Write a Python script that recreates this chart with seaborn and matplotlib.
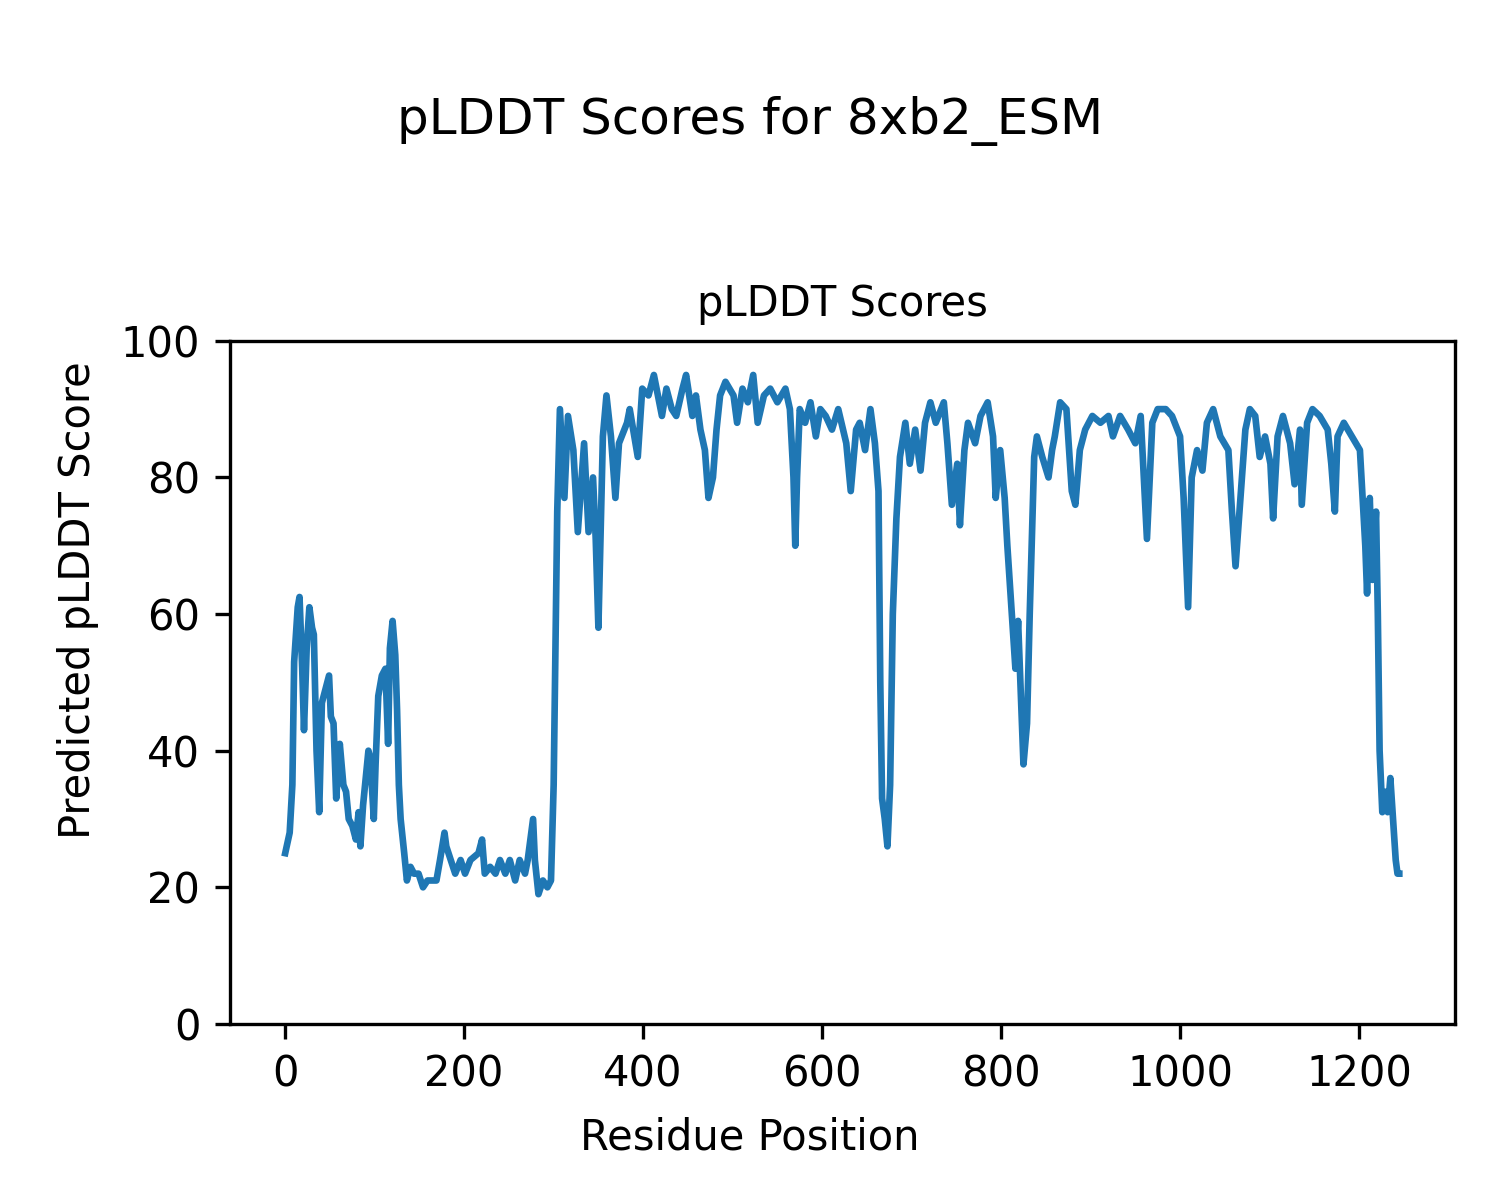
"""
Plot per-residue pLDDT scores for 8xb2_ESM.
"""

import matplotlib
matplotlib.use("Agg")
import matplotlib.pyplot as plt
import seaborn as sns
import pandas as pd

# Residue positions and pLDDT values
residues = [
    0, 5, 8, 10, 12, 14, 16, 19, 21, 24, 27, 30, 32, 35, 38, 41, 45, 49, 51, 54,
    57, 61, 65, 68, 71, 75, 79, 82, 84, 87, 93, 95, 99, 101, 104, 108, 112, 115,
    117, 120, 123, 125, 127, 129, 133, 136, 140, 144, 149, 154, 159, 164, 169,
    173, 178, 180, 185, 190, 196, 201, 207, 216, 220, 223, 229, 235, 240, 246,
    251, 257, 262, 268, 271, 277, 279, 283, 288, 293, 297, 300, 304, 307, 312,
    316, 322, 327, 334, 339, 344, 347, 350, 355, 359, 364, 369, 373, 382, 385,
    394, 399, 406, 412, 421, 426, 432, 437, 444, 448, 455, 459, 464, 469, 473,
    478, 482, 486, 492, 501, 505, 511, 517, 523, 528, 535, 542, 550, 559, 564,
    568, 570, 572, 575, 581, 587, 593, 598, 604, 611, 618, 627, 632, 638, 642,
    648, 654, 659, 663, 665, 667, 670, 673, 676, 679, 683, 687, 693, 698, 704,
    710, 715, 721, 727, 736, 740, 745, 751, 754, 759, 763, 771, 777, 785, 791,
    794, 799, 804, 807, 812, 816, 819, 825, 829, 832, 837, 840, 846, 853, 857,
    860, 866, 873, 879, 883, 888, 894, 902, 911, 920, 925, 933, 942, 950, 956,
    963, 969, 975, 984, 991, 1000, 1004, 1009, 1013, 1019, 1025, 1030, 1037,
    1045, 1054, 1058, 1062, 1067, 1073, 1078, 1084, 1089, 1095, 1101, 1104,
    1109, 1115, 1123, 1128, 1134, 1136, 1142, 1148, 1156, 1165, 1169, 1173,
    1176, 1183, 1192, 1201, 1207, 1209, 1212, 1215, 1219, 1221, 1223, 1226,
    1230, 1232, 1235, 1239, 1241, 1243, 1245,
]
plddt = [
    25, 28, 35, 53, 57, 61, 62.5, 52, 43, 55, 61, 58, 57, 40, 31, 47, 49, 51, 45, 44,
    33, 41, 35, 34, 30, 29, 27, 31, 26, 32, 40, 39, 30, 38, 48, 51, 52, 41,
    55, 59, 54, 46, 35, 30, 25, 21, 23, 22, 22, 20, 21, 21, 21,
    24, 28, 26, 24, 22, 24, 22, 24, 25, 27, 22, 23, 22, 24, 22,
    24, 21, 24, 22, 24, 30, 24, 19, 21, 20, 21, 35, 75, 90, 77,
    89, 84, 72, 85, 72, 80, 71, 58, 86, 92, 86, 77, 85, 88, 90,
    83, 93, 92, 95, 89, 93, 90, 89, 93, 95, 89, 92, 87, 84, 77,
    80, 87, 92, 94, 92, 88, 93, 91, 95, 88, 92, 93, 91, 93, 90,
    80, 70, 80, 90, 88, 91, 86, 90, 89, 87, 90, 85, 78, 87, 88,
    84, 90, 85, 78, 50, 33, 30, 26, 35, 60, 74, 83, 88, 82, 87,
    81, 88, 91, 88, 91, 85, 76, 82, 73, 84, 88, 85, 89, 91, 86,
    77, 84, 77, 70, 60, 52, 59, 38, 44, 60, 83, 86, 83, 80, 84,
    86, 91, 90, 78, 76, 84, 87, 89, 88, 89, 86, 89, 87, 85, 89,
    71, 88, 90, 90, 89, 86, 77, 61, 80, 84, 81, 88, 90,
    86, 84, 75, 67, 76, 87, 90, 89, 83, 86, 82, 74,
    86, 89, 85, 79, 87, 76, 88, 90, 89, 87, 82, 75,
    86, 88, 86, 84, 70, 63, 77, 65, 75, 60, 40, 31,
    34, 31, 36, 28, 24, 22, 22,
]


def plot():
    df = pd.DataFrame({"Residue": residues, "pLDDT": plddt})

    fig, ax = plt.subplots(figsize=(5, 4), dpi=300)
    fig.subplots_adjust(left=0.153, right=0.97, bottom=0.1467, top=0.716)

    sns.lineplot(data=df, x="Residue", y="pLDDT", ax=ax, color="#1f77b4", linewidth=1.6)

    ax.set_ylim(0, 100)
    ax.set_title("pLDDT Scores", fontsize=10)
    ax.set_xlabel("")
    ax.set_ylabel("")

    # Figure-level labels, centred on the whole figure
    fig.supxlabel("Residue Position", fontsize=10, y=0.052, va="center")
    fig.supylabel("Predicted pLDDT Score", fontsize=10, x=0.052, ha="center")
    fig.suptitle("pLDDT Scores for 8xb2_ESM", fontsize=12, y=0.92)

    fig.savefig("out.png", dpi=300)
    plt.close(fig)


if __name__ == "__main__":
    plot()
